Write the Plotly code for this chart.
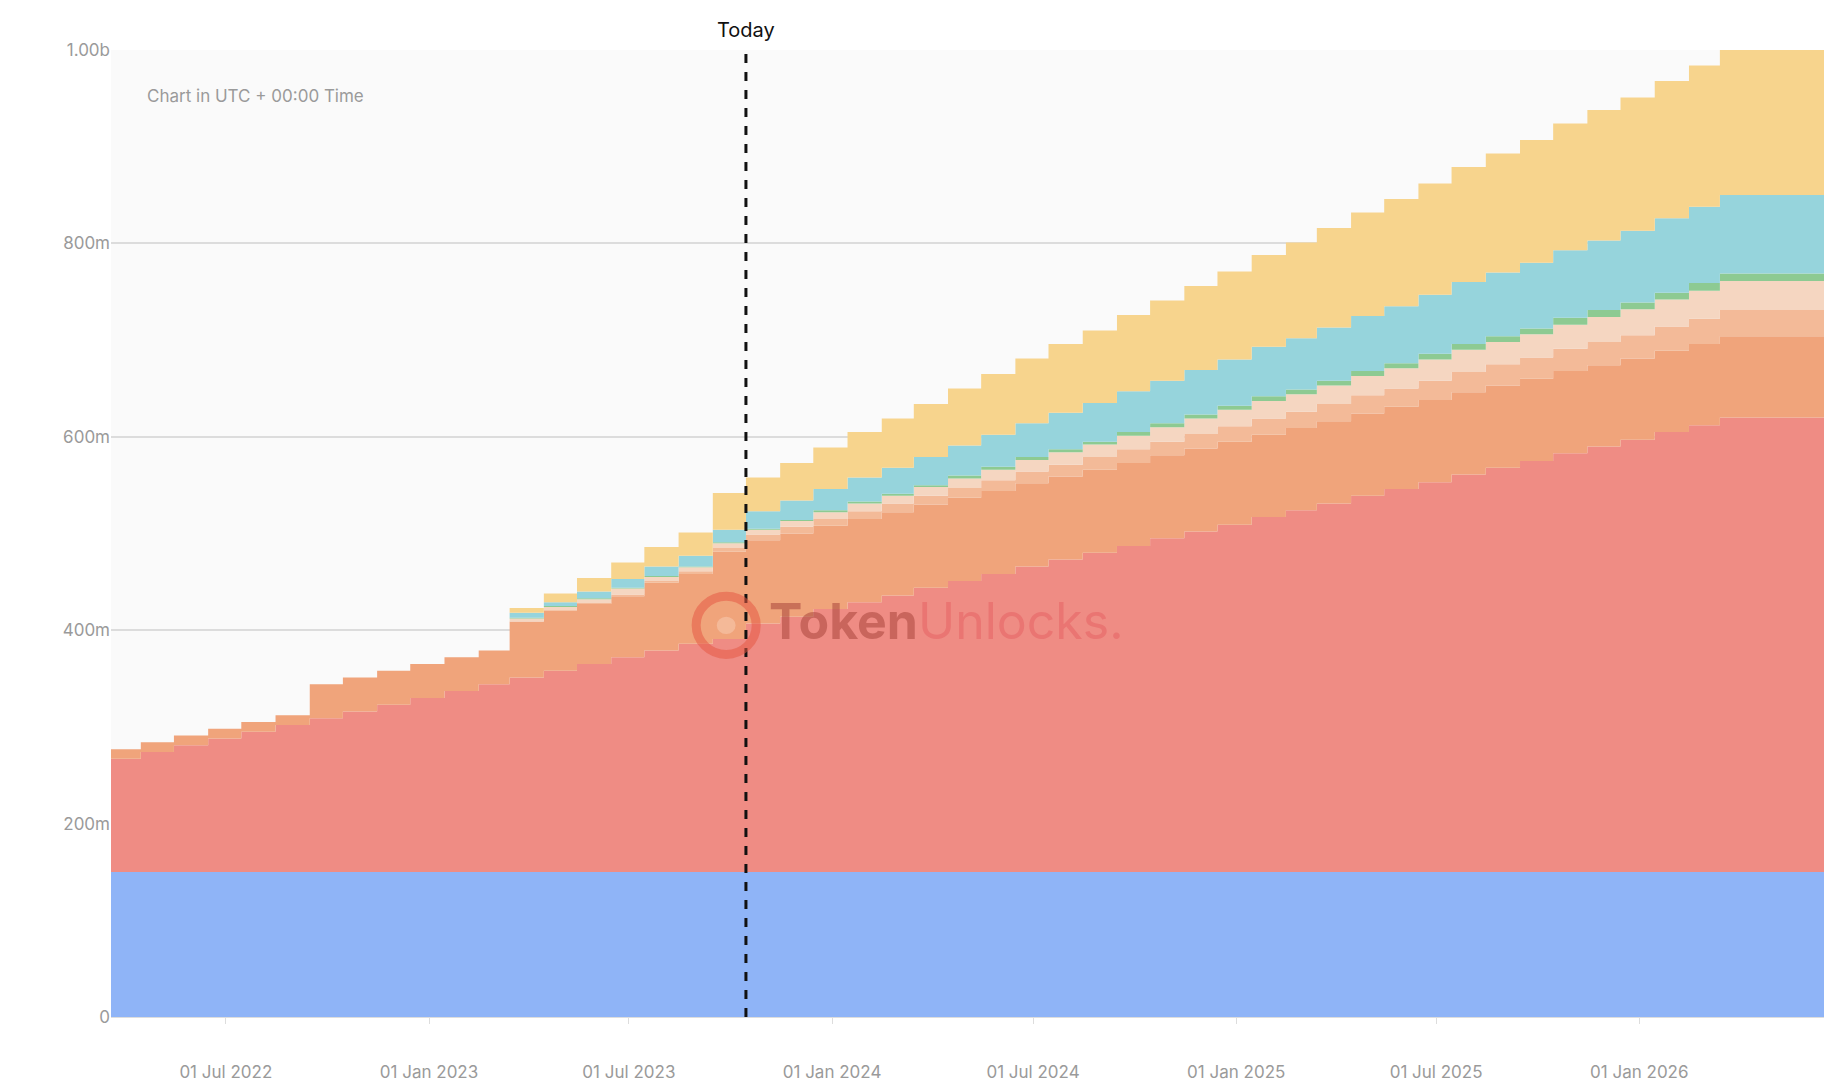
import plotly.graph_objects as go
import pandas as pd

dates = [d.strftime("%Y-%m-%d") for d in pd.date_range("2022-03-01", "2026-03-01", freq="MS") + pd.Timedelta(days=14)]
end_date = "2026-06-20"

blue = [150] * 49
red = [117,124,131,138,145,152,159,166,173,180,187,194,201,208,215,222,229,236,241,
       257,264,272,279,286,294,301,308,316,323,330,337,345,352,359,367,374,381,389,396,403,411,418,425,433,440,447,455,462,470]
orange = [10]*6 + [35]*6 + [58,62,62,63,70,72,90] + [86]*15 + [85]*10 + [84]*5
light_orange = [0]*13 + [1,1,2,2,3,4] + [6,7,7,8,9,9,10,11,12,12,13,14,14,15,16,17,17,18,19,19,20,21,22,22,23,24,24,25,26,27]
peach = [0]*12 + [3,3,4,6,4,4,5] + [5,6,7,8,8,9,10,11,12,13,13,14,15,16,17,18,18,19,20,21,22,23,23,24,25,26,27,28,29,30]
green = [0]*12 + [1]*7 + [1,1,2,2,2,2,3,3,3,3,3,4,4,4,4,5,5,5,5,5,6,6,6,6,7,7,7,7,8,8]
teal = [0]*12 + [5,4,7,9,10,11,13] + [18,20,22,25,27,29,31,33,35,38,40,42,44,46,48,51,53,55,57,59,61,64,66,68,70,72,74,77,79,81]
yellow = [0]*12 + [5,9,14,17,20,24,38] + [35,39,43,47,51,55,59,63,67,71,75,79,83,87,91,95,99,103,107,111,115,119,123,127,131,135,138,142,146,150]

series = [("Blue", blue, "#8fb4f7"), ("Red", red, "#ef8c84"), ("Orange", orange, "#f0a47b"),
          ("Light orange", light_orange, "#f3ba98"), ("Peach", peach, "#f5d6c1"),
          ("Green", green, "#8dca92"), ("Teal", teal, "#96d4dc"), ("Yellow", yellow, "#f7d48d")]

fig = go.Figure()
xs = dates + [end_date]
for name, vals, col in series:
    ys = [v * 1e6 for v in vals] + [vals[-1] * 1e6]
    fig.add_trace(go.Scatter(x=xs, y=ys, name=name, stackgroup="one", line=dict(width=0, shape="hv"),
                             fillcolor=col, mode="lines", hoverinfo="skip"))

today = "2023-10-15"
fig.add_shape(type="line", x0=today, x1=today, xref="x", yref="paper", y0=0, y1=1.0,
              line=dict(color="#111", width=3, dash="dash"))
fig.add_annotation(x=today, y=1.0, xref="x", yref="paper", text="Today", showarrow=False,
                   yanchor="bottom", yshift=6, font=dict(size=20, color="#111"))
fig.add_annotation(x=0.02, y=0.965, xref="paper", yref="paper", text="Chart in UTC + 00:00 Time",
                   showarrow=False, xanchor="left", font=dict(size=17, color="#9a9a9a"))
# watermark
fig.add_shape(type="circle", xref="paper", yref="paper", x0=0.341, x1=0.376, y0=0.375, y1=0.435,
              line=dict(color="rgba(230,90,70,0.55)", width=9), fillcolor="rgba(0,0,0,0)")
fig.add_shape(type="circle", xref="paper", yref="paper", x0=0.353, x1=0.364, y0=0.396, y1=0.414,
              line=dict(width=0), fillcolor="rgba(245,190,160,0.8)")
fig.add_annotation(x=0.382, y=0.41, xref="paper", yref="paper", xanchor="left",
                   text="<b>Token</b><span style='color:rgba(225,70,80,0.6)'>Unlocks.</span>",
                   showarrow=False, font=dict(size=50, color="rgba(170,70,60,0.55)"))

fig.update_layout(
    width=1832, height=1092, margin=dict(l=103, r=13, t=42, b=83),
    paper_bgcolor="white", plot_bgcolor="#fafafa", showlegend=False,
    font=dict(family="Inter, Roboto, sans-serif", size=17, color="#9a9a9a"),
    xaxis=dict(range=["2022-03-19", "2026-06-20"], showgrid=False, tickformat="%d %b %Y",
               tickvals=["2022-07-01","2023-01-01","2023-07-01","2024-01-01","2024-07-01","2025-01-01","2025-07-01","2026-01-01"],
               ticks="outside", ticklen=6, tickcolor="#ddd", showline=True, linecolor="#ddd",
               ticklabelstandoff=34),
    yaxis=dict(range=[0, 1e9], tickvals=[0, 2e8, 4e8, 6e8, 8e8, 1e9],
               ticktext=["0", "200m", "400m", "600m", "800m", "1.00b"],
               gridcolor="#dcdcdc", gridwidth=1.5, zeroline=False, layer="above traces"),
)
fig.write_html("out.html")
